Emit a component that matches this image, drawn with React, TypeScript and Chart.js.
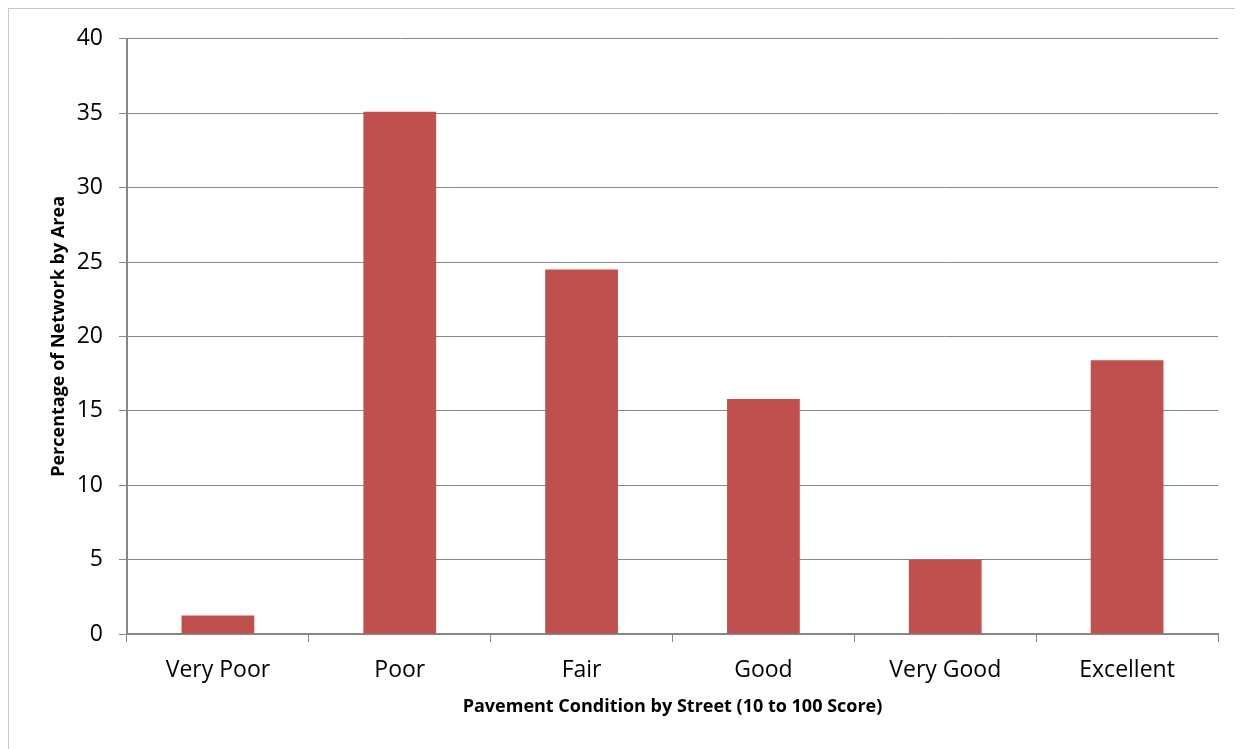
import React, { useEffect, useRef } from "react";
import { Chart, registerables } from "chart.js";

Chart.register(...registerables);

const categories = ["Very Poor", "Poor", "Fair", "Good", "Very Good", "Excellent"];
const shares = [1.25, 35.1, 24.5, 15.8, 5.0, 18.4];
const yTicks = [0, 5, 10, 15, 20, 25, 30, 35, 40];

const FONT = "'Open Sans', Lato, sans-serif";
const AXIS_GRAY = "#868686";

export default function App() {
  const canvasRef = useRef<HTMLCanvasElement | null>(null);

  useEffect(() => {
    if (!canvasRef.current) return;
    const chart = new Chart(canvasRef.current, {
      type: "bar",
      data: {
        labels: categories,
        datasets: [
          {
            data: shares,
            backgroundColor: "#C0504D",
            borderWidth: 0,
            barPercentage: 0.4,
            categoryPercentage: 1.0,
          },
        ],
      },
      options: {
        responsive: false,
        animation: false,
        layout: { padding: { top: 29, right: 25, bottom: 0, left: 0 } },
        plugins: {
          legend: { display: false },
          tooltip: { enabled: false },
        },
        scales: {
          x: {
            offset: true,
            grid: {
              display: true,
              offset: true,
              drawOnChartArea: false,
              drawTicks: true,
              tickLength: 8,
              color: AXIS_GRAY,
              lineWidth: 1,
            },
            border: { display: true, color: AXIS_GRAY, width: 2 },
            ticks: {
              color: "#000",
              font: { family: FONT, size: 23 },
              padding: 15,
              maxRotation: 0,
            },
            title: {
              display: true,
              text: "Pavement Condition by Street (10 to 100 Score)",
              color: "#000",
              font: { family: FONT, size: 18, weight: "bold" },
              padding: { top: 0, bottom: 31 },
            },
            afterFit: (scale: any) => {
              scale.height = 115;
            },
          },
          y: {
            min: 0,
            max: 40,
            afterBuildTicks: (scale: any) => {
              scale.ticks = yTicks.map((v) => ({ value: v }));
            },
            grid: {
              color: AXIS_GRAY,
              lineWidth: 1,
              tickLength: 8,
            },
            border: { display: true, color: AXIS_GRAY, width: 2 },
            ticks: {
              color: "#000",
              font: { family: FONT, size: 23 },
              padding: 16,
            },
            title: {
              display: true,
              text: "Percentage of Network by Area",
              color: "#000",
              font: { family: FONT, size: 18, weight: "bold" },
              padding: { top: 39, bottom: 0 },
            },
            afterFit: (scale: any) => {
              scale.width = 118;
            },
          },
        },
      },
    });
    return () => chart.destroy();
  }, []);

  return (
    <div
      style={{
        width: 1235,
        height: 741,
        borderTop: "1px solid #c8c8c8",
        borderLeft: "1px solid #c8c8c8",
        boxSizing: "border-box",
        overflow: "hidden",
        background: "#fff",
      }}
    >
      <canvas ref={canvasRef} width={1234} height={740} style={{ display: "block" }} />
    </div>
  );
}
